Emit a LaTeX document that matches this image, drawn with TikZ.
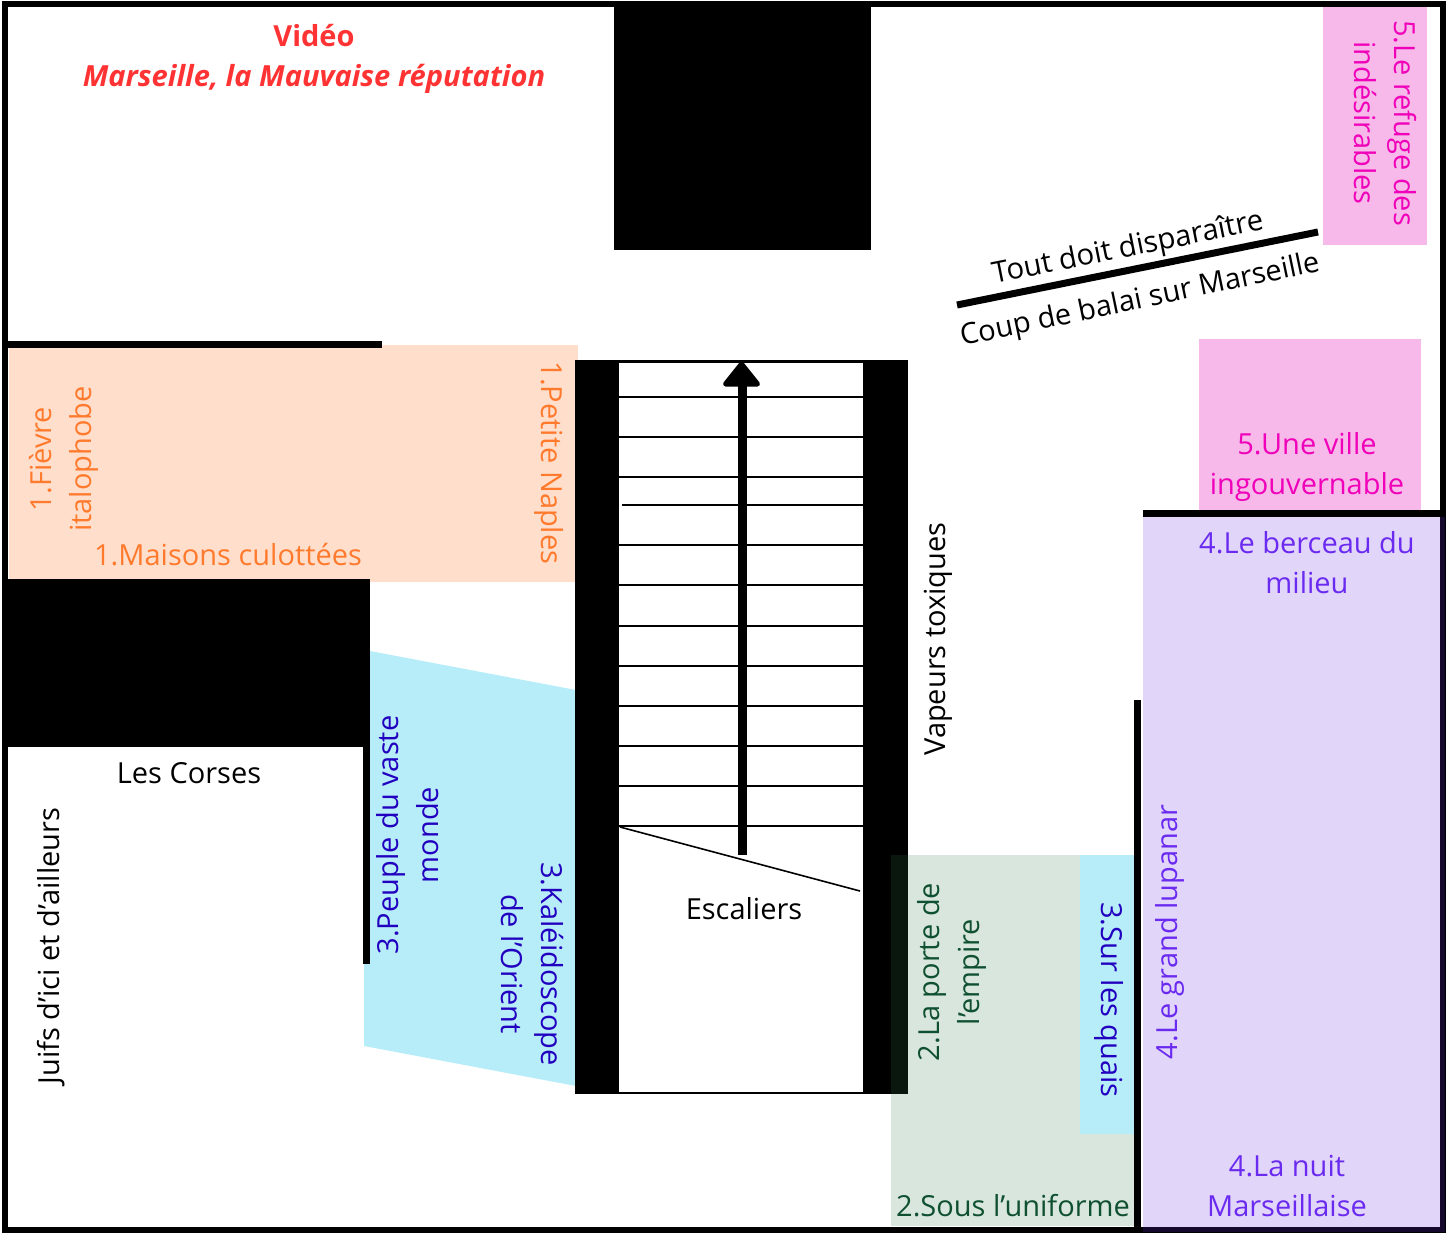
\documentclass[tikz,border=0pt]{standalone}
\usepackage{fontspec}
\setmainfont{Open Sans}
\definecolor{peach}{HTML}{FFDFCC}
\definecolor{peachtxt}{HTML}{FF7A2D}
\definecolor{sky}{HTML}{B6EDF8}
\definecolor{skytxt}{HTML}{2200C0}
\definecolor{pinkbg}{HTML}{F6B9EA}
\definecolor{pinktxt}{HTML}{F000B8}
\definecolor{greenov}{RGB}{50,125,80}
\definecolor{greentxt}{HTML}{0F5030}
\definecolor{purpleov}{RGB}{110,45,232}
\definecolor{purpletxt}{HTML}{6A2AF0}
\definecolor{redtxt}{HTML}{FF3333}
\tikzset{
  lbl/.style={inner sep=0pt,align=center,font=\fontsize{29}{40}\selectfont,text=black},
  peachlbl/.style={lbl,text=peachtxt},
  skylbl/.style={lbl,text=skytxt},
  pinklbl/.style={lbl,text=pinktxt},
  greenlbl/.style={lbl,text=greentxt},
  purplelbl/.style={lbl,text=purpletxt},
  wall/.style={fill=black,draw=none},
  tread/.style={draw=black,line width=1.6pt},
}
\begin{document}
\begin{tikzpicture}[x=1pt,y=-1pt]
\useasboundingbox (0,0) rectangle (1450,1232);
\fill[white] (0,0) rectangle (1450,1232);
% frame
\draw[black,line width=6pt] (5,3.5) -- (1442.5,3.5) -- (1442.5,1229.5) -- (5,1229.5) -- cycle;
% top block
\fill[wall] (614,5) rectangle (871,250);
% colour zones under walls
\fill[peach] (9,345) rectangle (578,582);
\fill[sky] (370,651) -- (576,690) -- (576,1086) -- (364,1046) -- (364,960) -- (370,960) -- cycle;
\fill[pinkbg] (1323,7) rectangle (1427,245);
\fill[pinkbg] (1199,339) rectangle (1421,512);
% left walls
\fill[wall] (8,340.5) rectangle (382,347.5);
\fill[wall] (5,579) rectangle (370,747);
\fill[wall] (363,747) rectangle (370,964);
% stairs
\fill[wall] (575,360) rectangle (908,1094);
\fill[white] (618.5,362.5) rectangle (862.5,1091.5);
\foreach \yy in {397,437,477,545,585,626,666,706,746,786,826}
  \draw[tread] (618,\yy) -- (863,\yy);
\draw[tread] (622,505) -- (863,505);
\draw[tread] (620,827) -- (860,891);
\fill[wall] (737.5,380) rectangle (746.5,855);
\filldraw[black,line width=5pt,line join=round] (741.5,364) -- (725.5,384) -- (757.5,384) -- cycle;
% right side zones
\fill[greenov,opacity=.19] (891,855) rectangle (1134,1226);
\fill[sky] (1080,855) rectangle (1134,1134);
\fill[wall] (1134,700) rectangle (1141,1228);
\fill[wall] (1143,510) rectangle (1445,517);
\fill[purpleov,opacity=.2] (1143,517) rectangle (1441,1228);
\fill[purpleov,opacity=.2] (1441,517) rectangle (1445,1232);
\fill[purpleov,opacity=.2] (1143,1228) rectangle (1441,1232);
% diagonal line
\coordinate (balaiA) at (957,305);
\coordinate (balaiB) at (1318,232);
\draw[black,line width=7pt] (balaiA) -- (balaiB);
% texts
\node[lbl,text=redtxt,font=\fontsize{29}{40}\selectfont\bfseries] (video) at (314,36) {Vidéo};
\node[lbl,text=redtxt,font=\fontsize{29.1}{40}\selectfont\bfseries\itshape] (titre) at (314,79) {Marseille, la Mauvaise réputation};
\node[peachlbl,rotate=90] (fievre) at (63.5,459) {1.Fièvre\\italophobe};
\node[peachlbl] (maisons) at (228,555) {1.Maisons culottées};
\node[peachlbl,rotate=-90] (naples) at (549.5,463) {1.Petite Naples};
\node[skylbl,rotate=90] (peuple) at (408,835) {3.Peuple du vaste\\monde};
\node[skylbl,rotate=-90] (kaleido) at (532,964) {3.Kaléidoscope\\de l’Orient};
\node[lbl] (corses) at (189,773) {Les Corses};
\node[lbl,rotate=90] (juifs) at (51,946) {Juifs d’ici et d’ailleurs};
\node[lbl] (esc) at (744,909) {Escaliers};
\node[lbl,rotate=90] (vapeurs) at (938,639) {Vapeurs toxiques};
\node[greenlbl,rotate=90] (porte) at (952,972) {2.La porte de\\l’empire};
\node[skylbl,rotate=-90] (quais) at (1109,1000) {3.Sur les quais};
\node[greenlbl] (uniforme) at (1013,1206) {2.Sous l’uniforme};
\node[purplelbl,rotate=90] (lupanar) at (1170,932) {4.Le grand lupanar};
\node[purplelbl] (nuit) at (1287,1186) {4.La nuit\\Marseillaise};
\node[purplelbl] (berceau) at (1307,563) {4.Le berceau du\\milieu};
\node[pinklbl] (ville) at (1307,467) {5.Une ville\\ingouvernable};
\node[pinklbl,rotate=-90] (refuge) at (1385,123) {5.Le refuge des\\indésirables};
\node[lbl,font=\fontsize{29.3}{40}\selectfont,rotate=11.4] (tout) at (1128,249) {Tout doit disparaître};
\node[lbl,rotate=11.8] (coup) at (1140,301) {Coup de balai sur Marseille};
\end{tikzpicture}
\end{document}
